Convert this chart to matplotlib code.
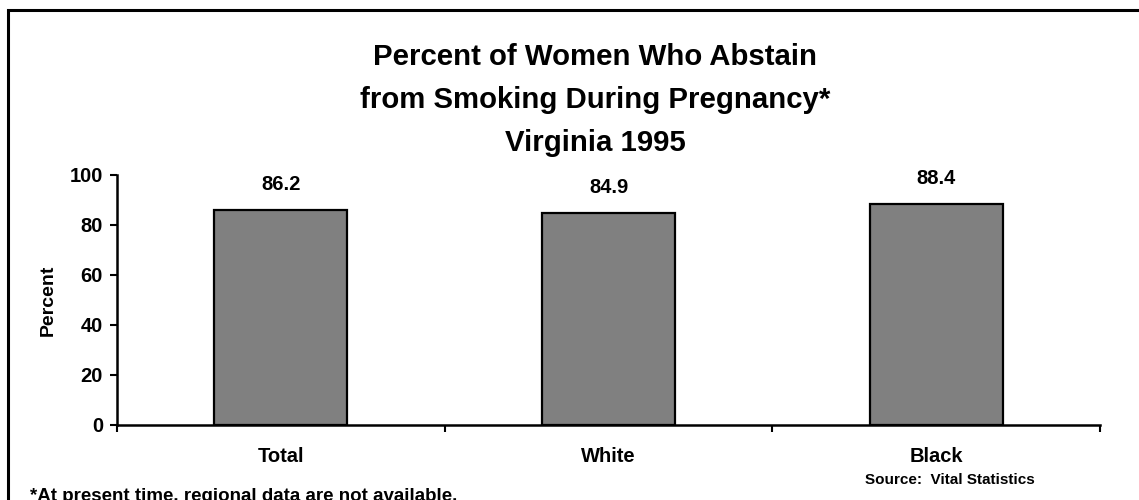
import matplotlib
matplotlib.use("Agg")
import matplotlib.pyplot as plt
from matplotlib.patches import Rectangle

plt.rcParams['font.family'] = ['Liberation Sans', 'DejaVu Sans']
plt.rcParams['font.weight'] = 'bold'

categories = ["Total", "White", "Black"]
values = [86.2, 84.9, 88.4]
yticks = [0, 20, 40, 60, 80, 100]

title = "Percent of Women Who Abstain\nfrom Smoking During Pregnancy*\nVirginia 1995"

fig = plt.figure(figsize=(11.39, 5.0), dpi=100)
fig.patch.set_facecolor("white")

# outer frame, running off the right and bottom edges
fig.patches.append(Rectangle((8 / 1139, -0.2), 1.2, 1.2 - 10 / 500,
                             transform=fig.transFigure, fill=False,
                             edgecolor="black", linewidth=2.2, zorder=0))

ax = fig.add_axes([117 / 1139, 1 - 425 / 500, (1100 - 117) / 1139, 250 / 500])
x = range(len(categories))
ax.bar(x, values, width=0.405, color="#808080", edgecolor="black",
       linewidth=1.6, zorder=2)
for xi, v in zip(x, values):
    ax.annotate(f"{v:.1f}", (xi, v), xytext=(0, 18), textcoords="offset points",
                ha="center", va="center", fontsize=14.5, fontweight="bold")

ax.set_xlim(-0.5, 2.5)
ax.set_ylim(0, 100)
ax.set_yticks(yticks)
ax.set_yticklabels([str(t) for t in yticks], fontsize=14.5, fontweight="bold")
ax.set_xticks([-0.5, 0.5, 1.5, 2.5])
ax.set_xticklabels([])
ax.tick_params(axis="y", direction="out", length=5, width=1.5, pad=5)
ax.tick_params(axis="x", direction="out", length=5, width=1.5)
for xi, c in zip(x, categories):
    ax.annotate(c, (xi, 0), xytext=(0, -23), textcoords="offset points",
                ha="center", va="center", fontsize=14.5, fontweight="bold")

for s in ["top", "right"]:
    ax.spines[s].set_visible(False)
for s in ["left", "bottom"]:
    ax.spines[s].set_linewidth(1.8)

ax.set_ylabel("Percent", fontsize=14, fontweight="bold", labelpad=9)

fig.text(595 / 1139, 1 - 100 / 500, title, ha="center", va="center",
         fontsize=21.2, fontweight="bold", linespacing=1.66)

fig.text(950 / 1139, 1 - 480 / 500, "Source:  Vital Statistics", ha="center",
         va="center", fontsize=11, fontweight="bold")
fig.text(30 / 1139, 1 - 501 / 500,
         "*At present time, regional data are not available.", ha="left",
         va="baseline", fontsize=13.5, fontweight="bold")

fig.savefig("out.png", dpi=100)
